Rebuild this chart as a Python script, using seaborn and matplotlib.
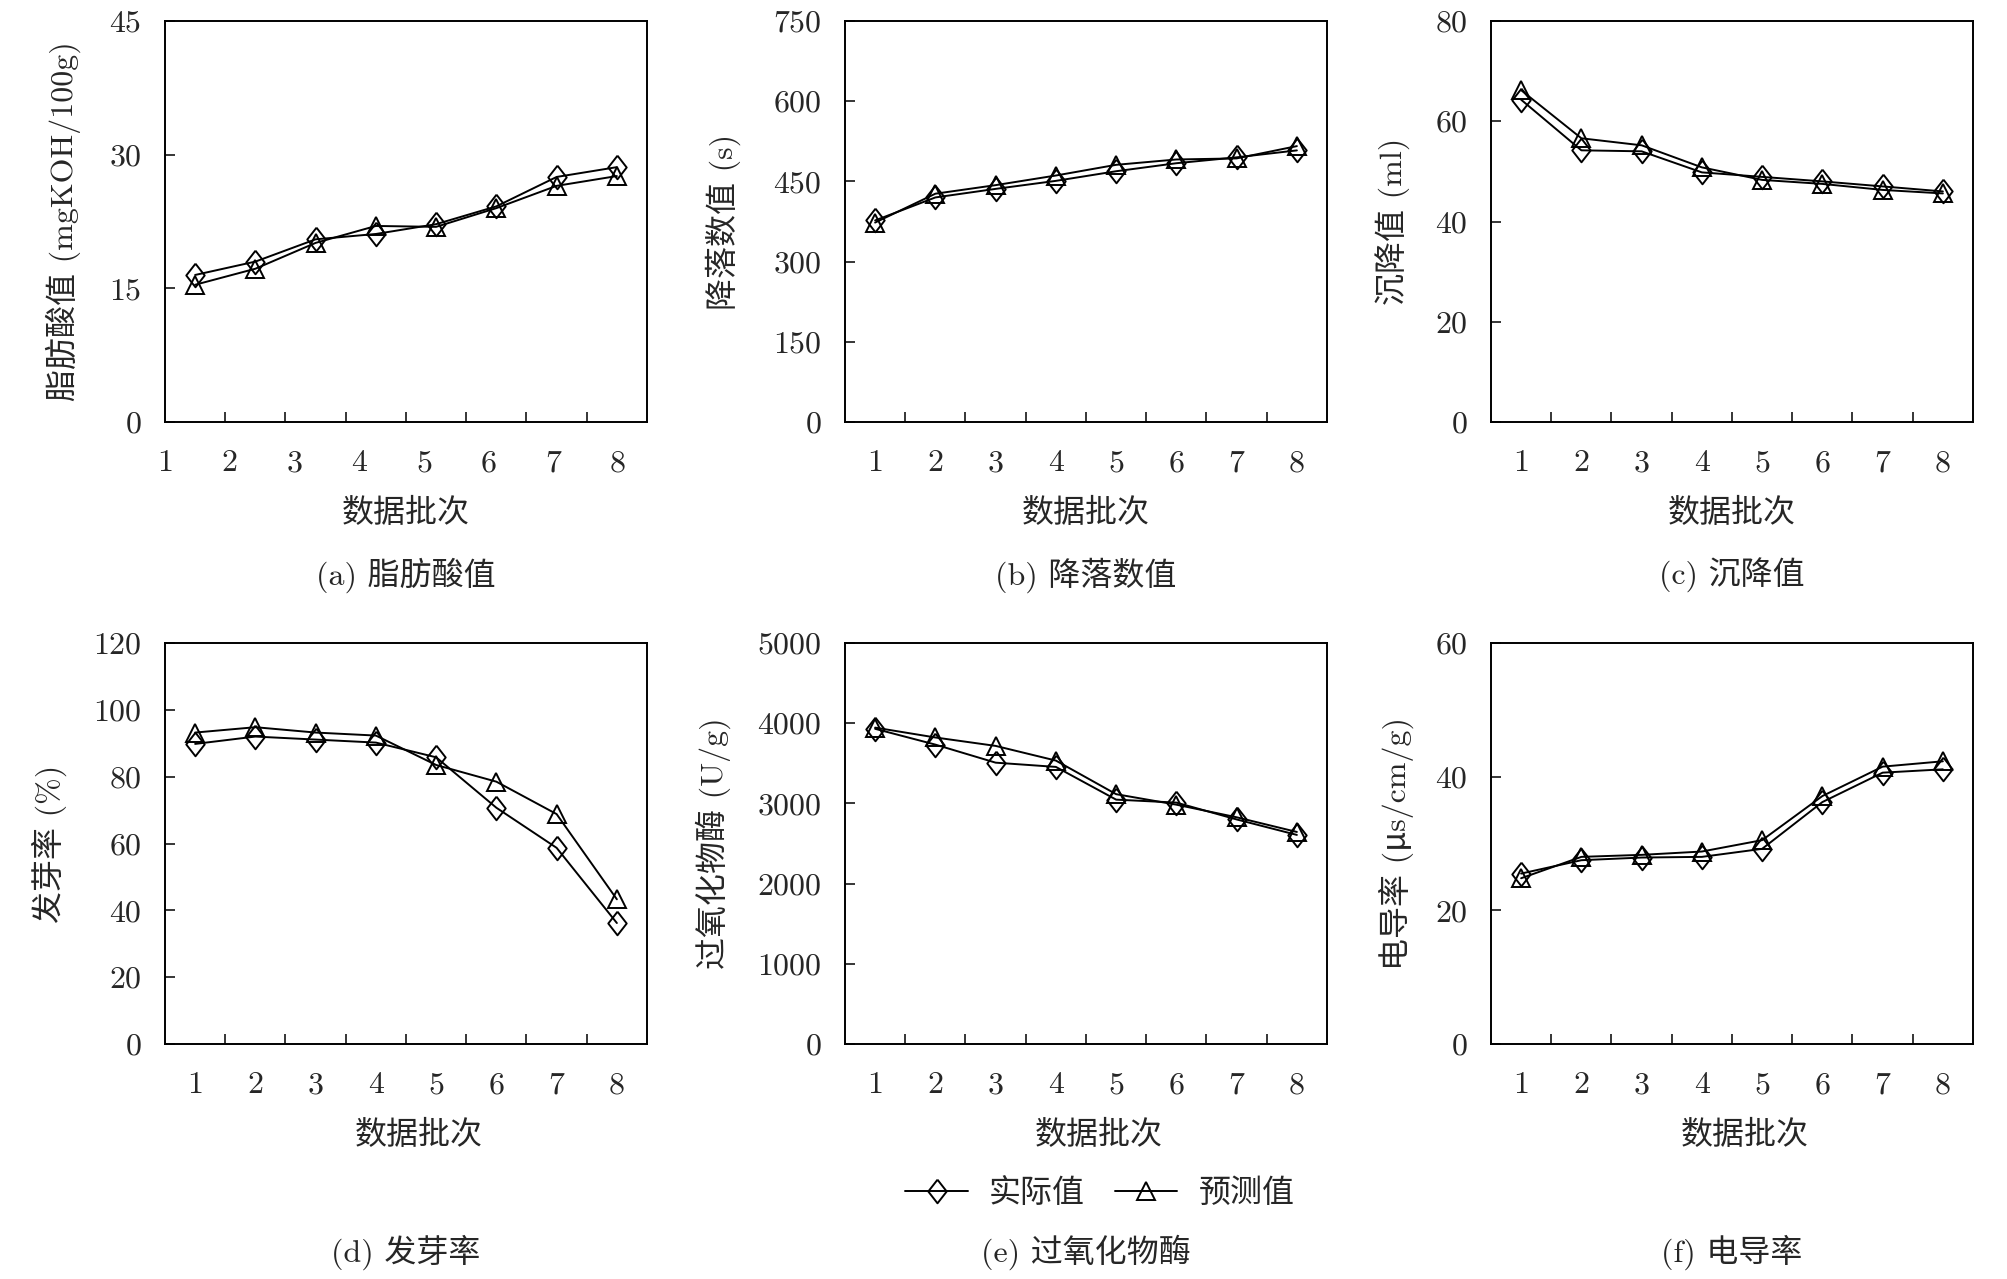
import numpy as np
import pandas as pd
import matplotlib
matplotlib.use("Agg")
import matplotlib.pyplot as plt
import seaborn as sns

# ---------------- data ----------------
batches = [1, 2, 3, 4, 5, 6, 7, 8]
tick_labels = ["1", "2", "3", "4", "5", "6", "7", "8"]

fat_actual = [16.5, 18.0, 20.5, 21.1, 22.2, 24.2, 27.5, 28.6]
fat_pred = [15.4, 17.2, 20.1, 22.0, 21.9, 24.0, 26.5, 27.6]

fall_actual = [377, 420, 436, 451, 469, 484, 495, 508]
fall_pred = [373, 427, 443, 461, 481, 491, 493, 516]

sed_actual = [64.3, 54.2, 54.0, 49.8, 48.9, 48.0, 47.0, 46.0]
sed_pred = [66.2, 56.6, 55.2, 50.8, 48.3, 47.5, 46.3, 45.6]

germ_actual = [89.8, 92.0, 91.1, 90.2, 85.8, 70.7, 58.7, 36.2]
germ_pred = [93.2, 94.8, 93.2, 92.3, 83.5, 78.5, 68.8, 43.3]

perox_actual = [3930, 3733, 3508, 3455, 3047, 3010, 2800, 2607]
perox_pred = [3945, 3822, 3717, 3534, 3115, 2984, 2827, 2644]

cond_actual = [25.5, 27.5, 27.9, 28.0, 29.2, 36.2, 40.6, 41.1]
cond_pred = [24.8, 28.0, 28.3, 28.8, 30.5, 37.1, 41.5, 42.3]

ylabels = ["脂肪酸值 (mgKOH/100g)", "降落数值 (s)", "沉降值 (ml)",
           "发芽率 (%)", "过氧化物酶 (U/g)", "电导率 (μs/cm/g)"]
captions = ["(a) 脂肪酸值", "(b) 降落数值", "(c) 沉降值",
            "(d) 发芽率", "(e) 过氧化物酶", "(f) 电导率"]
xlabel = "数据批次"
series_names = ["实际值", "预测值"]
yticks_list = [[0, 15, 30, 45], [0, 150, 300, 450, 600, 750], [0, 20, 40, 60, 80],
               [0, 20, 40, 60, 80, 100, 120], [0, 1000, 2000, 3000, 4000, 5000],
               [0, 20, 40, 60]]
actuals = [fat_actual, fall_actual, sed_actual, germ_actual, perox_actual, cond_actual]
preds = [fat_pred, fall_pred, sed_pred, germ_pred, perox_pred, cond_pred]

# ---------------- style ----------------
sns.set_style("ticks")
plt.rcParams["font.family"] = ["cmr10", "Noto Sans CJK SC", "DejaVu Sans"]
plt.rcParams["axes.formatter.use_mathtext"] = True
plt.rcParams["font.size"] = 23
plt.rcParams["axes.unicode_minus"] = False

W, H = 2008, 1279
fig = plt.figure(figsize=(W / 100, H / 100), dpi=100, facecolor="white")

col_left = [165, 845, 1491]
row_top = [21, 643]
ax_w, ax_h = 482, 401
ylabel_x = [-0.21, -0.253, -0.203, -0.239, -0.274, -0.197]
xlabel_y = [513, 1135]
xlabel_x = [0.5, 0.527]
caption_y = [575, 1252]

diamond = [(0, 1), (0.78, 0), (0, -1), (-0.78, 0), (0, 1)]
lw = 1.4

axes = []
for i in range(6):
    r, c = divmod(i, 3)
    left = col_left[c] / W
    bottom = 1 - (row_top[r] + ax_h) / H
    ax = fig.add_axes([left, bottom, ax_w / W, ax_h / H])
    axes.append(ax)
    df = pd.DataFrame({"batch": batches, "actual": actuals[i], "pred": preds[i]})
    sns.lineplot(data=df, x="batch", y="actual", ax=ax, color="black", lw=lw,
                 marker=diamond, markersize=17, markerfacecolor="none",
                 markeredgecolor="black", markeredgewidth=lw, label=series_names[0],
                 legend=False)
    sns.lineplot(data=df, x="batch", y="pred", ax=ax, color="black", lw=lw,
                 marker="^", markersize=12.5, markerfacecolor="none",
                 markeredgecolor="black", markeredgewidth=lw, label=series_names[1],
                 legend=False)
    yt = yticks_list[i]
    ax.set_xlim(0.5, 8.5)
    ax.set_ylim(yt[0], yt[-1])
    ax.set_yticks(yt)
    ax.set_yticklabels([str(v) for v in yt])
    # category labels (panel a has its labels spread from the left edge)
    if i == 0:
        pos = np.linspace(0.5, 8.02, 8)
    else:
        pos = np.array(batches, dtype=float)
    ax.set_xticks(pos)
    ax.set_xticklabels(tick_labels)
    ax.set_xticks(np.arange(1.5, 8.0, 1.0), minor=True)
    ax.tick_params(axis="x", which="major", length=0, pad=20, labelsize=23)
    ax.tick_params(axis="x", which="minor", direction="in", length=7.5, width=1.3)
    ax.tick_params(axis="y", which="major", direction="in", length=7.5, width=1.3,
                   pad=17, labelsize=23)
    for sp in ax.spines.values():
        sp.set_visible(True)
        sp.set_linewidth(1.4)
        sp.set_color("black")
    ax.set_ylabel(ylabels[i], fontsize=23)
    ax.yaxis.set_label_coords(ylabel_x[i], 0.5)
    ax.yaxis.label.set_verticalalignment("center")
    ax.yaxis.label.set_horizontalalignment("center")
    ax.set_xlabel(xlabel, fontsize=23)
    ly = (row_top[r] + ax_h - xlabel_y[r]) / ax_h
    ax.xaxis.set_label_coords(xlabel_x[r], ly)
    ax.xaxis.label.set_verticalalignment("center")
    cx = (col_left[c] + ax_w / 2) / W
    fig.text(cx, 1 - caption_y[r] / H, captions[i], ha="center", va="center", fontsize=23)

handles = axes[4].get_lines()[:2]
fig.legend(handles, series_names, loc="center", bbox_to_anchor=(1100 / W, 1 - 1193 / H),
           ncol=2, frameon=False, fontsize=23, handlelength=1.95, handletextpad=0.66,
           columnspacing=0.95, numpoints=1)

fig.savefig("out.png", dpi=100, facecolor="white")
